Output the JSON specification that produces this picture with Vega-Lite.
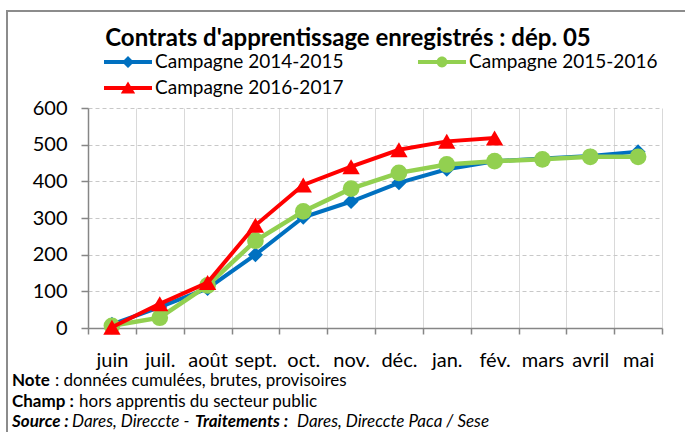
{
  "$schema": "https://vega.github.io/schema/vega-lite/v6.json",
  "width": 574,
  "height": 220,
  "autosize": "none",
  "padding": {"left": 88, "top": 108, "right": 23, "bottom": 104},
  "background": "white",
  "config": {"font": "Lato", "view": {"stroke": null}},
  "datasets": {
    "d": [
      {"m": "juin", "s": "Campagne 2014-2015", "v": 10},
      {"m": "juil.", "s": "Campagne 2014-2015", "v": 57},
      {"m": "août", "s": "Campagne 2014-2015", "v": 108},
      {"m": "sept.", "s": "Campagne 2014-2015", "v": 200},
      {"m": "oct.", "s": "Campagne 2014-2015", "v": 302},
      {"m": "nov.", "s": "Campagne 2014-2015", "v": 345},
      {"m": "déc.", "s": "Campagne 2014-2015", "v": 396},
      {"m": "jan.", "s": "Campagne 2014-2015", "v": 433},
      {"m": "fév.", "s": "Campagne 2014-2015", "v": 455},
      {"m": "mars", "s": "Campagne 2014-2015", "v": 462},
      {"m": "avril", "s": "Campagne 2014-2015", "v": 469},
      {"m": "mai", "s": "Campagne 2014-2015", "v": 481},
      {"m": "juin", "s": "Campagne 2015-2016", "v": 6},
      {"m": "juil.", "s": "Campagne 2015-2016", "v": 28},
      {"m": "août", "s": "Campagne 2015-2016", "v": 116},
      {"m": "sept.", "s": "Campagne 2015-2016", "v": 238},
      {"m": "oct.", "s": "Campagne 2015-2016", "v": 318},
      {"m": "nov.", "s": "Campagne 2015-2016", "v": 380},
      {"m": "déc.", "s": "Campagne 2015-2016", "v": 423},
      {"m": "jan.", "s": "Campagne 2015-2016", "v": 446},
      {"m": "fév.", "s": "Campagne 2015-2016", "v": 455},
      {"m": "mars", "s": "Campagne 2015-2016", "v": 460},
      {"m": "avril", "s": "Campagne 2015-2016", "v": 467},
      {"m": "mai", "s": "Campagne 2015-2016", "v": 467},
      {"m": "juin", "s": "Campagne 2016-2017", "v": 2},
      {"m": "juil.", "s": "Campagne 2016-2017", "v": 66},
      {"m": "août", "s": "Campagne 2016-2017", "v": 124},
      {"m": "sept.", "s": "Campagne 2016-2017", "v": 280},
      {"m": "oct.", "s": "Campagne 2016-2017", "v": 390},
      {"m": "nov.", "s": "Campagne 2016-2017", "v": 440},
      {"m": "déc.", "s": "Campagne 2016-2017", "v": 486},
      {"m": "jan.", "s": "Campagne 2016-2017", "v": 509},
      {"m": "fév.", "s": "Campagne 2016-2017", "v": 518}
    ]
  },
  "data": {"name": "d"},
  "encoding": {
    "x": {
      "field": "m",
      "type": "ordinal",
      "sort": ["juin", "juil.", "août", "sept.", "oct.", "nov.", "déc.", "jan.", "fév.", "mars", "avril", "mai"],
      "scale": {"type": "band", "paddingInner": 0, "paddingOuter": 0},
      "axis": {
        "title": null,
        "tickBand": "extent",
        "labelAngle": 0,
        "labelFontSize": 20,
        "labelColor": "black",
        "labelBaseline": "alphabetic",
        "labelPadding": 32,
        "labelOverlap": false,
        "labelBound": false,
        "tickSize": 6,
        "tickColor": "#868686",
        "tickWidth": 1.5,
        "domainColor": "#868686",
        "domainWidth": 1.5,
        "grid": true,
        "gridColor": "#d9d9d9",
        "gridWidth": 1
      }
    },
    "y": {
      "field": "v",
      "type": "quantitative",
      "scale": {"domain": [0, 600], "nice": false},
      "axis": {
        "title": null,
        "values": [0, 100, 200, 300, 400, 500, 600],
        "labelFontSize": 20,
        "labelColor": "black",
        "labelPadding": 14,
        "tickSize": 7,
        "tickColor": "#868686",
        "tickWidth": 1.5,
        "domainColor": "#868686",
        "domainWidth": 1.5,
        "grid": true,
        "gridColor": "#c8c8c8",
        "gridDash": [4, 3],
        "gridWidth": 1
      }
    }
  },
  "layer": [
    {
      "data": {"values": [{}]},
      "mark": {"type": "rect", "fill": null, "stroke": "#8c8c8c", "strokeWidth": 2},
      "encoding": {"x": {"value": -81}, "x2": {"value": 700}, "y": {"value": -97}, "y2": {"value": 400}}
    },
    {
      "transform": [{"filter": "datum.s == 'Campagne 2014-2015'"}],
      "mark": {"type": "line", "color": "#0070C0", "strokeWidth": 4}
    },
    {
      "transform": [{"filter": "datum.s == 'Campagne 2014-2015'"}],
      "mark": {"type": "point", "shape": "diamond", "filled": true, "opacity": 1, "color": "#0070C0", "size": 225}
    },
    {
      "transform": [{"filter": "datum.s == 'Campagne 2015-2016'"}],
      "mark": {"type": "line", "color": "#92D050", "strokeWidth": 4.5}
    },
    {
      "transform": [{"filter": "datum.s == 'Campagne 2015-2016'"}],
      "mark": {"type": "point", "shape": "circle", "filled": true, "opacity": 1, "color": "#92D050", "size": 280}
    },
    {
      "transform": [{"filter": "datum.s == 'Campagne 2016-2017'"}],
      "mark": {"type": "line", "color": "#FF0000", "strokeWidth": 4}
    },
    {
      "transform": [{"filter": "datum.s == 'Campagne 2016-2017'"}],
      "mark": {"type": "point", "shape": "triangle-up", "filled": true, "opacity": 1, "color": "#FF0000", "size": 300}
    },
    {
      "transform": [{"filter": "false"}],
      "mark": {"type": "point", "filled": true, "opacity": 1},
      "encoding": {
        "color": {
          "field": "s",
          "type": "nominal",
          "title": null,
          "scale": {
            "domain": ["Campagne 2014-2015", "Campagne 2015-2016", "Campagne 2016-2017"],
            "range": ["#0070C0", "#92D050", "#FF0000"]
          },
          "legend": {
            "orient": "none",
            "direction": "horizontal",
            "legendX": 28,
            "legendY": -58,
            "columns": 2,
            "columnPadding": 74,
            "rowPadding": 4,
            "symbolSize": 576,
            "symbolOpacity": 1,
            "symbolStrokeWidth": 0,
            "labelOffset": 15,
            "labelFont": "Lato",
            "labelFontSize": 19,
            "labelColor": "black",
            "labelLimit": 400
          }
        },
        "shape": {
          "field": "s",
          "type": "nominal",
          "title": null,
          "scale": {
            "domain": ["Campagne 2014-2015", "Campagne 2015-2016", "Campagne 2016-2017"],
            "range": [
              "M-2,-0.17H2V0.17H-2Z M0,-0.5L0.5,0L0,0.5L-0.5,0Z",
              "M-2,-0.17H2V0.17H-2Z M0.45,0A0.45,0.45 0 1,1 -0.45,0A0.45,0.45 0 1,1 0.45,0Z",
              "M-2,-0.17H2V0.17H-2Z M0,-0.55L0.6,0.45L-0.6,0.45Z"
            ]
          }
        }
      }
    },
    {
      "data": {"values": [{}]},
      "mark": {"type": "text", "text": "Contrats d'apprentissage enregistrés : dép. 05", "font": "Lato", "fontSize": 24, "fontWeight": "bold", "align": "center", "baseline": "alphabetic", "color": "black"},
      "encoding": {"x": {"value": 260}, "y": {"value": -62}}
    },
    {
      "data": {"values": [{}]},
      "mark": {"type": "text", "text": "Note", "font": "Lato", "fontSize": 17, "fontWeight": "bold", "align": "left", "baseline": "alphabetic", "color": "black"},
      "encoding": {"x": {"value": -76}, "y": {"value": 278}}
    },
    {
      "data": {"values": [{}]},
      "mark": {"type": "text", "text": ": données  cumulées, brutes, provisoires", "font": "Lato", "fontSize": 17, "align": "left", "baseline": "alphabetic", "color": "black"},
      "encoding": {"x": {"value": -33}, "y": {"value": 278}}
    },
    {
      "data": {"values": [{}]},
      "mark": {"type": "text", "text": "Champ :", "font": "Lato", "fontSize": 17, "fontWeight": "bold", "align": "left", "baseline": "alphabetic", "color": "black"},
      "encoding": {"x": {"value": -76}, "y": {"value": 299}}
    },
    {
      "data": {"values": [{}]},
      "mark": {"type": "text", "text": "hors apprentis du secteur public", "font": "Lato", "fontSize": 17, "align": "left", "baseline": "alphabetic", "color": "black"},
      "encoding": {"x": {"value": -9}, "y": {"value": 299}}
    },
    {
      "data": {"values": [{}]},
      "mark": {"type": "text", "text": "Source :", "font": "Lato", "fontSize": 17, "fontWeight": "bold", "fontStyle": "italic", "align": "left", "baseline": "alphabetic", "color": "black"},
      "encoding": {"x": {"value": -76}, "y": {"value": 319}}
    },
    {
      "data": {"values": [{}]},
      "mark": {"type": "text", "text": "Dares, Direccte -", "font": "Lato", "fontSize": 17, "fontStyle": "italic", "align": "left", "baseline": "alphabetic", "color": "black"},
      "encoding": {"x": {"value": -16}, "y": {"value": 319}}
    },
    {
      "data": {"values": [{}]},
      "mark": {"type": "text", "text": "Traitements :", "font": "Lato", "fontSize": 17, "fontWeight": "bold", "fontStyle": "italic", "align": "left", "baseline": "alphabetic", "color": "black"},
      "encoding": {"x": {"value": 107}, "y": {"value": 319}}
    },
    {
      "data": {"values": [{}]},
      "mark": {"type": "text", "text": "Dares, Direccte Paca / Sese", "font": "Lato", "fontSize": 17, "fontStyle": "italic", "align": "left", "baseline": "alphabetic", "color": "black"},
      "encoding": {"x": {"value": 209}, "y": {"value": 319}}
    }
  ]
}
